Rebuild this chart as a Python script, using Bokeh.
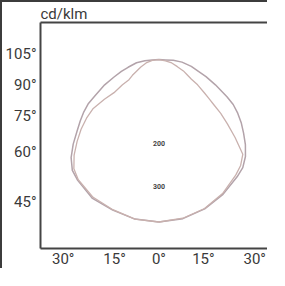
import numpy as np
from bokeh.plotting import figure
from bokeh.models import FixedTicker, LinearAxis, Range1d
from bokeh.core.properties import value
from bokeh.embed import file_html
from bokeh.resources import INLINE

# ---------------- data (cd/klm) ----------------
gamma = [0, 10, 20, 30, 40, 45, 50, 55, 60, 65, 70, 75, 80, 90, 100, 110, 120, 135, 150, 165, 180]
c0_right = [320, 317, 308, 295, 280, 273, 260, 243, 225, 209, 193, 177, 159, 130, 110, 95, 86, 75, 66, 60, 59]
c0_left = [320, 318, 311, 306, 291, 282, 264, 241, 218, 200, 184, 168, 150, 125, 105, 92, 82, 73, 65, 60, 59]
c90_right = [320, 316, 307, 293, 275, 266, 252, 214, 182, 157, 134, 118, 106, 89, 76, 69, 65, 60, 59, 58, 59]
c90_left = [320, 318, 310, 303, 289, 277, 255, 230, 207, 184, 161, 130, 105, 84, 70, 65, 61, 59, 59, 59, 59]

side_angles = [105, 90, 75, 60, 45]
side_labels = ["105°", "90°", "75°", "60°", "45°"]
bottom_angles = [-30, -15, 0, 15, 30]
bottom_labels = ["30°", "15°", "0°", "15°", "30°"]
ring_values = [200, 300]
ring_labels = ["200", "300"]
unit_label = "cd/klm"

# ---------------- layout ----------------
W, H = 267, 268
ML, MT, MB = 35, 18, 18
FRAME_W, FRAME_H = W - ML, H - MT - MB
CX, CY = 120, 64          # polar centre inside frame (px from left / top)
K = 0.44                  # px per cd/klm
FONT = "Roboto"
INK = "#3a3a3a"

x0, x1 = -CX / K, (FRAME_W - CX) / K
y0, y1 = -(FRAME_H - CY) / K, CY / K

p = figure(width=W, height=H, output_backend="svg", toolbar_location=None,
           x_range=Range1d(x0, x1), y_range=Range1d(y0, y1),
           x_axis_location=None, y_axis_location=None,
           min_border_left=ML, min_border_right=0, min_border_top=MT, min_border_bottom=MB)
p.styles = {"border-top": "2px solid #3c3c3c", "border-left": "2px solid #3c3c3c"}
p.outline_line_color = None
p.background_fill_color = "white"
p.border_fill_color = "white"
p.xgrid.visible = False
p.ygrid.visible = False

p.title.text = unit_label
p.title.text_font = FONT
p.title.text_font_size = "15px"
p.title.text_font_style = "normal"
p.title.text_color = INK
p.title.align = "left"
p.title.offset = 0
p.title.standoff = 0

# left axis ticks: where rays at the given angles meet the left edge
ga = np.radians(side_angles)
ly = [round(float(-(CX / K) * np.cos(a) / np.sin(a)), 4) for a in ga]
left = LinearAxis(ticker=FixedTicker(ticks=ly, minor_ticks=[]),
                  major_label_overrides=dict(zip(ly, side_labels)))
# bottom axis ticks: where rays meet the bottom edge
gb = np.radians(bottom_angles)
bx = [round(float(-y0 * np.tan(a)), 4) for a in gb]
bottom = LinearAxis(ticker=FixedTicker(ticks=bx, minor_ticks=[]),
                    major_label_overrides=dict(zip(bx, bottom_labels)))
top = LinearAxis(ticker=FixedTicker(ticks=[], minor_ticks=[]))

for ax in (left, bottom, top):
    ax.axis_line_color = "#444444"
    ax.axis_line_width = 2
    ax.major_tick_line_color = None
    ax.minor_tick_line_color = None
    ax.major_tick_out = 0
    ax.major_tick_in = 0
    ax.major_label_text_font = FONT
    ax.major_label_text_font_size = "15px"
    ax.major_label_text_color = INK
left.major_label_standoff = 4
bottom.major_label_standoff = 1
top.major_label_text_font_size = "0px"
top.major_label_standoff = 0

p.add_layout(left, "left")
p.add_layout(bottom, "below")
p.add_layout(top, "above")

# ---------------- curves ----------------
g = np.radians(gamma)


def polar_xy(r_right, r_left):
    rr = np.array(r_right, dtype=float)
    rl = np.array(r_left, dtype=float)
    x = np.concatenate([rr * np.sin(g), (-rl * np.sin(g))[::-1]])
    y = np.concatenate([-rr * np.cos(g), (-rl * np.cos(g))[::-1]])
    return x, y


xa, ya = polar_xy(c0_right, c0_left)
xb, yb = polar_xy(c90_right, c90_left)
p.line(xa, ya, line_color="#b3a3aa", line_width=1.5, line_join="round")
p.line(xb, yb, line_color="#c9b1ae", line_width=1.3, line_join="round")

# ring labels
p.text(x=[0, 0], y=[-v for v in ring_values], text=ring_labels,
       text_font=value(FONT), text_font_size="7px", text_font_style="bold",
       text_color="#444444", text_align="center", text_baseline="middle",
       y_offset=-27)

open("out.html", "w").write(file_html(p, INLINE))
